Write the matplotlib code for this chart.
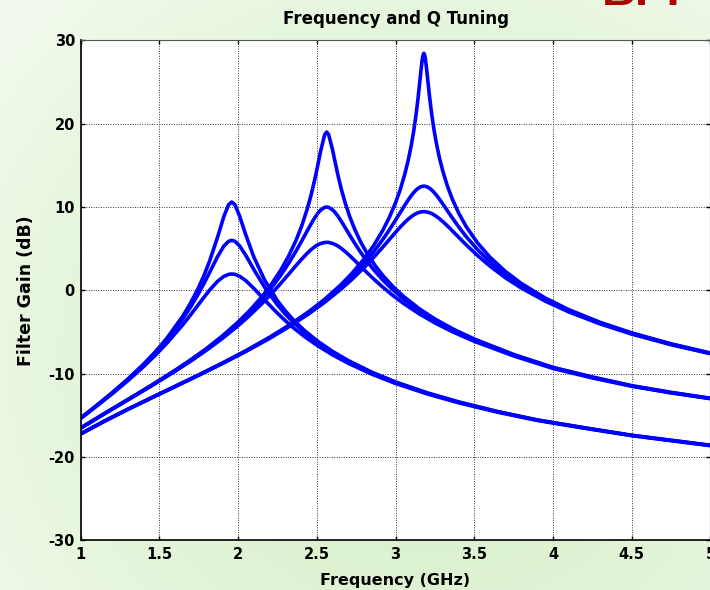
import numpy as np
import matplotlib
matplotlib.use("Agg")
import matplotlib.pyplot as plt

# ---- data ----
# family centred near 1.96 GHz
x1 = [1.0, 1.1, 1.2, 1.3, 1.4, 1.48, 1.55, 1.65, 1.7, 1.75, 1.785, 1.82, 1.87, 1.91, 1.94,
      1.96, 1.98, 2.01, 2.05, 2.1, 2.17, 2.25, 2.3, 2.35, 2.42, 2.5, 2.6, 2.7, 2.85, 3.0,
      3.2, 3.4, 3.65, 3.9, 4.2, 4.5, 4.75, 5.0]
y1_hi = [-15.34, -13.85, -12.30, -10.66, -8.87, -7.28, -5.71, -3.08, -1.49, 0.35, 1.83, 3.53, 6.37, 8.85, 10.27,
         10.60, 10.28, 8.92, 6.62, 4.02, 1.18, -1.24, -2.46, -3.52, -4.79, -6.03, -7.33, -8.43, -9.83, -11.00,
         -12.30, -13.39, -14.56, -15.56, -16.50, -17.40, -18.00, -18.60]
y1_mid = [-15.36, -13.88, -12.35, -10.72, -8.96, -7.41, -5.90, -3.41, -1.97, -0.37, 0.86, 2.16, 4.04, 5.31, 5.88,
          6.00, 5.89, 5.34, 4.18, 2.51, 0.34, -1.74, -2.85, -3.82, -5.02, -6.20, -7.46, -8.54, -9.90, -11.05,
          -12.34, -13.43, -14.58, -15.58, -16.52, -17.42, -18.02, -18.62]
y1_lo = [-15.41, -13.94, -12.44, -10.86, -9.17, -7.70, -6.31, -4.12, -2.92, -1.68, -0.81, 0.03, 1.08, 1.67, 1.91,
         1.96, 1.92, 1.69, 1.15, 0.24, -1.18, -2.74, -3.64, -4.47, -5.52, -6.58, -7.75, -8.76, -10.07, -11.18,
         -12.43, -13.50, -14.64, -15.62, -16.56, -17.45, -18.05, -18.65]

# family centred near 2.56 GHz
x2 = [1.0, 1.15, 1.3, 1.45, 1.6, 1.7, 1.8, 1.9, 2.0, 2.07, 2.15, 2.21, 2.27, 2.32, 2.37,
      2.405, 2.44, 2.465, 2.49, 2.51, 2.525, 2.55, 2.563, 2.575, 2.6, 2.615, 2.635, 2.655, 2.68, 2.71,
      2.74, 2.78, 2.82, 2.87, 2.92, 2.98, 3.05, 3.15, 3.25, 3.37, 3.5, 3.75, 4.0, 4.25, 4.5,
      4.75, 5.0]
y2_hi = [-16.54, -14.81, -13.12, -11.40, -9.61, -8.34, -6.98, -5.49, -3.82, -2.51, -0.81, 0.67, 2.38, 4.06, 6.07,
         7.76, 9.79, 11.51, 13.52, 15.34, 16.75, 18.67, 19.00, 18.72, 16.90, 15.53, 13.78, 12.21, 10.52, 8.81,
         7.37, 5.76, 4.41, 2.98, 1.77, 0.52, -0.72, -2.20, -3.44, -4.69, -5.85, -7.70, -9.25, -10.40, -11.45,
         -12.25, -12.96]
y2_mid = [-16.55, -14.82, -13.13, -11.43, -9.65, -8.39, -7.05, -5.59, -3.98, -2.72, -1.11, 0.25, 1.77, 3.19, 4.76,
          5.94, 7.16, 8.01, 8.80, 9.33, 9.64, 9.96, 10.00, 9.96, 9.67, 9.38, 8.88, 8.31, 7.54, 6.60,
          5.68, 4.52, 3.47, 2.28, 1.23, 0.11, -1.03, -2.42, -3.61, -4.82, -5.94, -7.76, -9.30, -10.45, -11.48,
          -12.28, -12.98]
y2_lo = [-16.57, -14.85, -13.17, -11.48, -9.73, -8.50, -7.19, -5.79, -4.26, -3.09, -1.63, -0.45, 0.80, 1.90, 3.01,
         3.76, 4.46, 4.90, 5.27, 5.50, 5.62, 5.74, 5.76, 5.75, 5.63, 5.51, 5.31, 5.04, 4.66, 4.15,
         3.60, 2.85, 2.11, 1.21, 0.37, -0.57, -1.56, -2.82, -3.91, -5.05, -6.12, -7.88, -9.38, -10.52, -11.52,
         -12.32, -13.01]

# family centred near 3.18 GHz
x3 = [1.0, 1.15, 1.3, 1.45, 1.6, 1.75, 1.9, 2.05, 2.2, 2.33, 2.45, 2.55, 2.65, 2.72, 2.8,
      2.86, 2.92, 2.96, 3.0, 3.03, 3.06, 3.08, 3.1, 3.115, 3.13, 3.143, 3.155, 3.163, 3.17, 3.175,
      3.18, 3.185, 3.19, 3.197, 3.205, 3.217, 3.23, 3.245, 3.26, 3.28, 3.3, 3.33, 3.36, 3.4, 3.45,
      3.52, 3.6, 3.7, 3.8, 3.95, 4.1, 4.3, 4.5, 4.75, 5.0]
y3_hi = [-17.24, -15.72, -14.28, -12.90, -11.53, -10.16, -8.74, -7.25, -5.64, -4.12, -2.55, -1.08, 0.61, 1.96, 3.75,
         5.33, 7.22, 8.72, 10.50, 12.09, 14.02, 15.56, 17.40, 19.05, 21.02, 23.04, 25.18, 26.64, 27.73, 28.26,
         28.45, 28.26, 27.75, 26.65, 25.22, 23.11, 21.13, 19.21, 17.60, 15.82, 14.33, 12.49, 10.98, 9.31, 7.61,
         5.71, 3.97, 2.23, 0.81, -0.92, -2.32, -3.85, -5.11, -6.42, -7.53]
y3_mid = [-17.25, -15.72, -14.29, -12.91, -11.55, -10.18, -8.77, -7.29, -5.71, -4.21, -2.68, -1.26, 0.34, 1.60, 3.22,
          4.59, 6.12, 7.23, 8.42, 9.33, 10.25, 10.83, 11.37, 11.72, 12.03, 12.23, 12.38, 12.44, 12.48, 12.50,
          12.50, 12.50, 12.48, 12.44, 12.38, 12.24, 12.04, 11.75, 11.42, 10.91, 10.38, 9.54, 8.71, 7.65, 6.42,
          4.90, 3.41, 1.85, 0.53, -1.10, -2.46, -3.94, -5.18, -6.48, -7.57]
y3_lo = [-17.25, -15.73, -14.30, -12.92, -11.57, -10.20, -8.80, -7.34, -5.78, -4.30, -2.81, -1.44, 0.08, 1.25, 2.72,
         3.92, 5.20, 6.08, 6.96, 7.59, 8.18, 8.53, 8.84, 9.04, 9.20, 9.31, 9.38, 9.41, 9.43, 9.44,
         9.44, 9.44, 9.43, 9.41, 9.38, 9.31, 9.21, 9.05, 8.87, 8.58, 8.26, 7.73, 7.16, 6.39, 5.44,
         4.19, 2.90, 1.48, 0.26, -1.29, -2.59, -4.04, -5.26, -6.53, -7.61]

xticks = [1, 1.5, 2, 2.5, 3, 3.5, 4, 4.5, 5]
xtick_labels = ["1", "1.5", "2", "2.5", "3", "3.5", "4", "4.5", "5"]
yticks = [-30, -20, -10, 0, 10, 20, 30]
ytick_labels = ["-30", "-20", "-10", "0", "10", "20", "30"]

curves = [(x1, y1_hi), (x1, y1_mid), (x1, y1_lo),
          (x2, y2_hi), (x2, y2_mid), (x2, y2_lo),
          (x3, y3_hi), (x3, y3_mid), (x3, y3_lo)]

plt.rcParams['font.family'] = ['DejaVu Sans']
fig = plt.figure(figsize=(7.1, 5.9), dpi=100)

# background gradient (slide background)
bg = fig.add_axes([0, 0, 1, 1], zorder=-10)
H, W = 590, 710
yy, xx = np.mgrid[0:H, 0:W]
r = np.sqrt(((xx / W - 0.6) / 0.8) ** 2 + ((yy / H - 0.62) / 0.9) ** 2)
t = np.clip(r / 0.95, 0, 1)[..., None] ** 1.3
dark = np.array([0.835, 0.937, 0.775])
light = np.array([0.945, 0.980, 0.925])
img = dark * (1 - t) + light * t
bg.imshow(img, aspect='auto', extent=[0, 1, 0, 1], origin='upper')
bg.set_axis_off()

# red slide-title remnant (cut off by the top edge)
fig.text(0.848, 0.9915, "BPF", color='#b00000', fontsize=34, fontweight='bold',
         family='Liberation Sans', ha='left', va='baseline')

ax = fig.add_axes([0.1134, 0.0844, 0.8873, 0.8471])
ax.set_facecolor('white')
for xs, ys in curves:
    ax.plot(xs, ys, color='#0000ff', lw=2.6, solid_joinstyle='round', solid_capstyle='round')

ax.set_xlim(1, 5)
ax.set_ylim(-30, 30)
ax.set_xticks(xticks)
ax.set_xticklabels(xtick_labels)
ax.set_yticks(yticks)
ax.set_yticklabels(ytick_labels)
ax.grid(True, color='#333333', linestyle=(0, (1, 1.5)), linewidth=0.7)
ax.tick_params(direction='in', length=3, width=1, top=True, right=True,
               labelsize=10.5)
ax.tick_params(axis='x', pad=5)
ax.tick_params(axis='y', pad=4)
for lab in ax.get_xticklabels() + ax.get_yticklabels():
    lab.set_fontweight('bold')
for s in ['left', 'bottom']:
    ax.spines[s].set_color('black')
    ax.spines[s].set_linewidth(1.2)
ax.spines['top'].set_color('#555555')
ax.spines['top'].set_linestyle((0, (1, 1)))
ax.spines['top'].set_linewidth(0.8)

ax.set_title("Frequency and Q Tuning", fontsize=12, fontweight='bold', pad=12)
ax.set_xlabel("Frequency (GHz)", fontsize=11.5, fontweight='bold', labelpad=8)
ax.set_ylabel("Filter Gain (dB)", fontsize=12.5, fontweight='bold', labelpad=10)

fig.savefig("out.png", dpi=100)
